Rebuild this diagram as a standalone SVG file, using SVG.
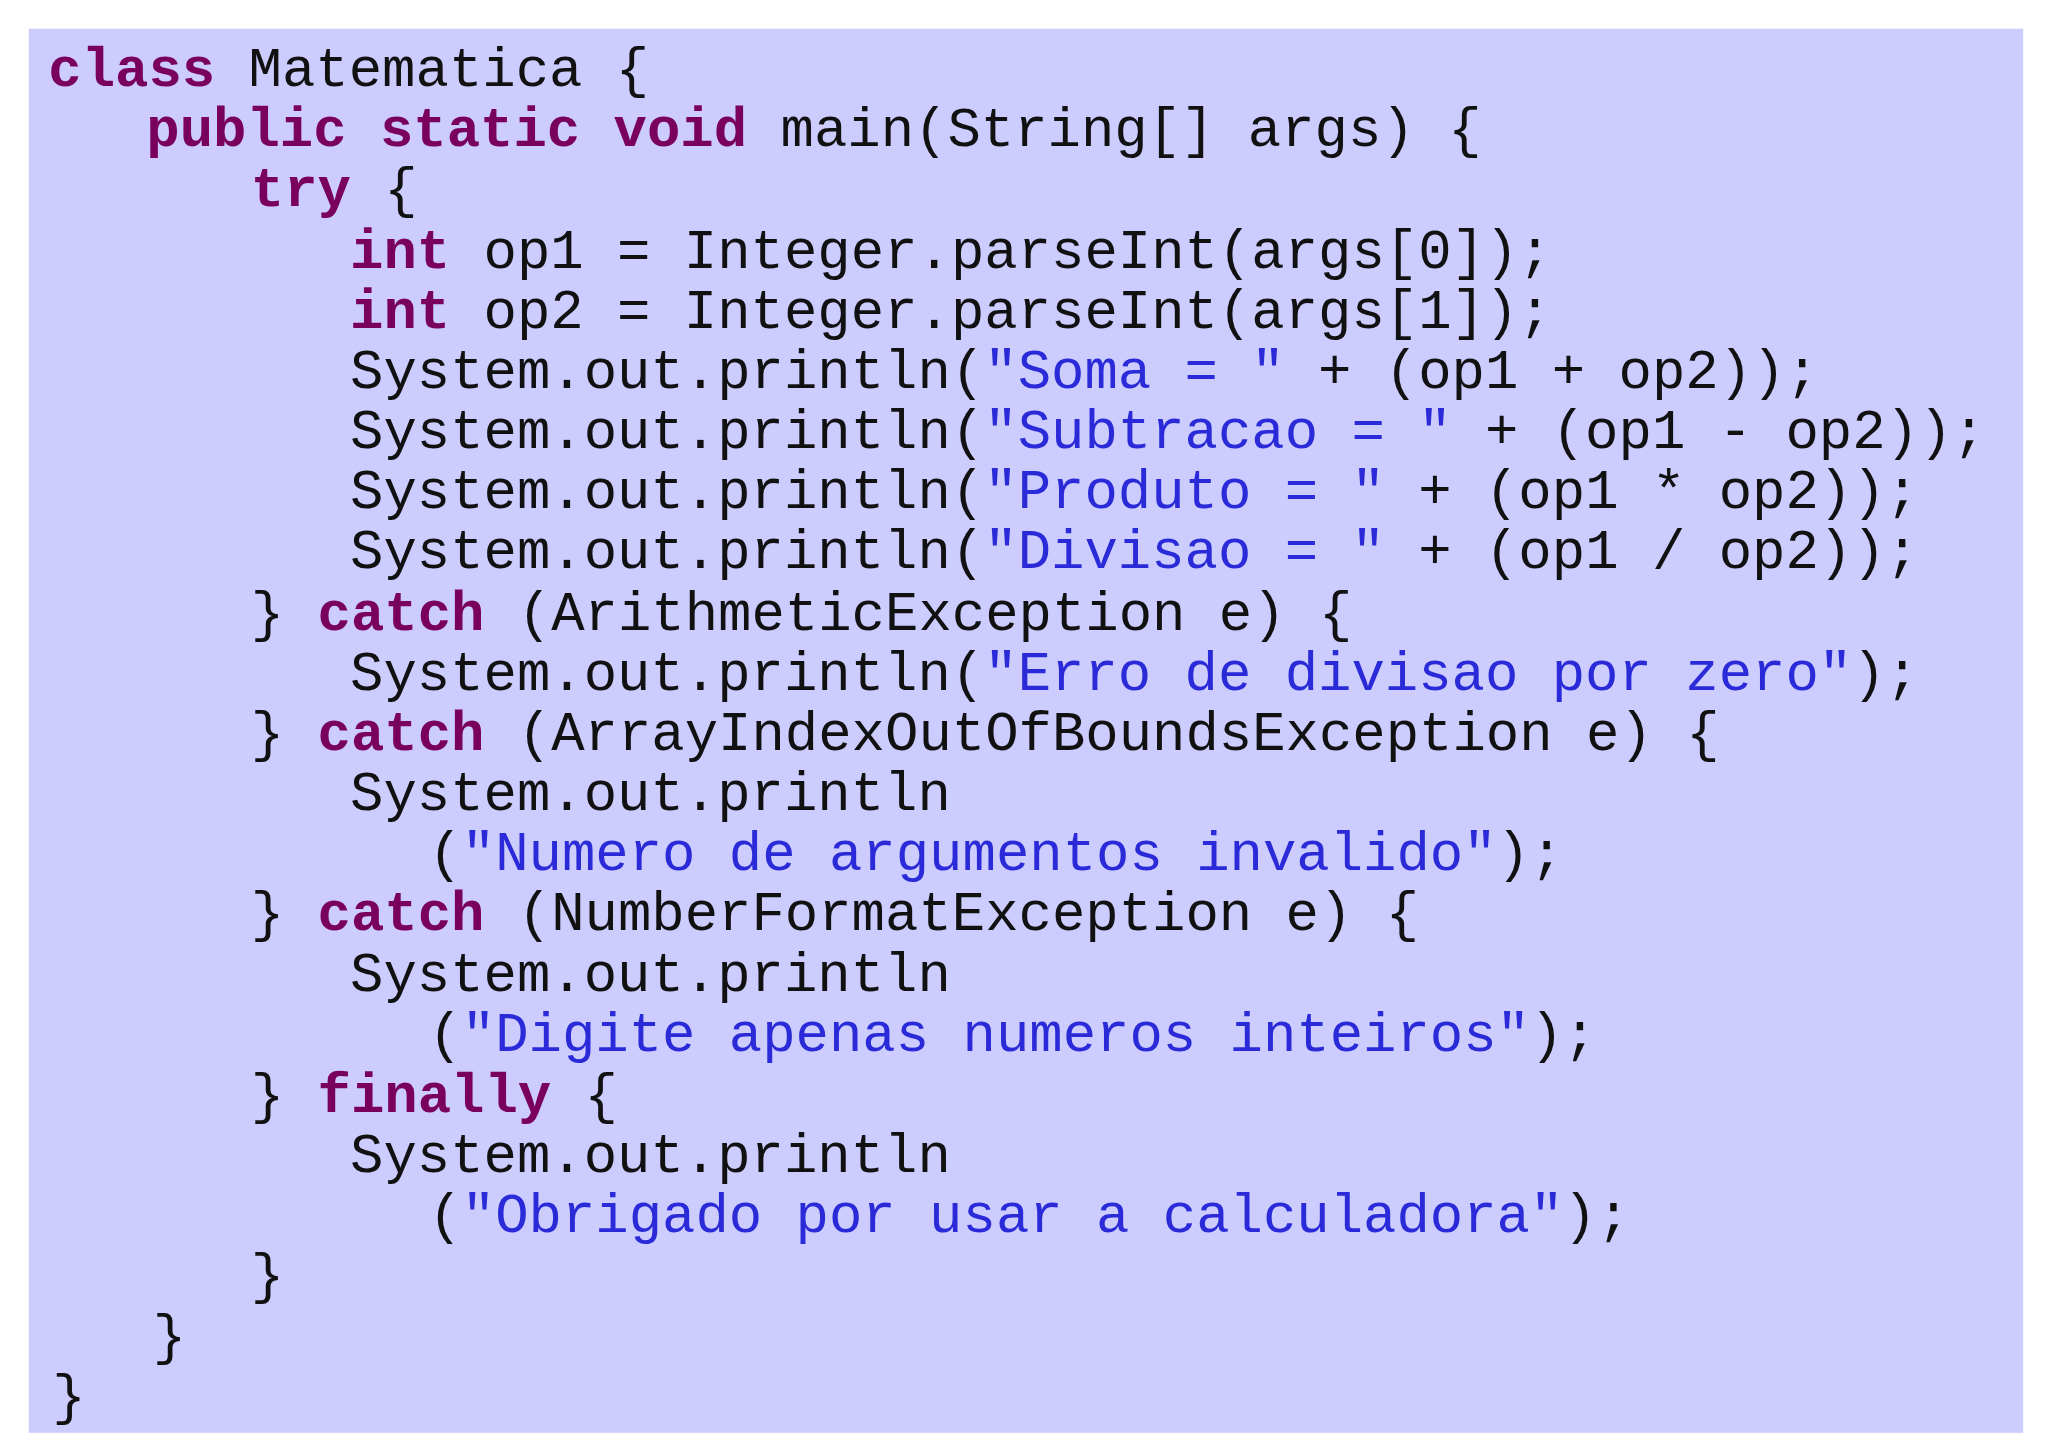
<svg xmlns="http://www.w3.org/2000/svg" width="2048" height="1447" viewBox="0 0 2048 1447">
<style>
text{font-family:"Liberation Mono","Courier New",monospace;font-size:42.6px;fill:#111;white-space:pre}
.k{font-weight:bold;fill:#7a0060}
.s{fill:#2a2ad8}
</style>
<rect width="2048" height="1447" fill="#fff"/>
<g id="code" transform="scale(1.30612)">
<rect x="22" y="22" width="1527" height="1075" fill="#ccccff"/>
<text x="37" y="66" xml:space="preserve"><tspan class="k">class</tspan> Matematica {</text>
<text x="112" y="112" xml:space="preserve"><tspan class="k">public static void</tspan> main(String[] args) {</text>
<text x="192" y="158" xml:space="preserve"><tspan class="k">try</tspan> {</text>
<text x="268" y="205" xml:space="preserve"><tspan class="k">int</tspan> op1 = Integer.parseInt(args[0]);</text>
<text x="268" y="251" xml:space="preserve"><tspan class="k">int</tspan> op2 = Integer.parseInt(args[1]);</text>
<text x="268" y="297" xml:space="preserve">System.out.println(<tspan class="s">"Soma = "</tspan> + (op1 + op2));</text>
<text x="268" y="343" xml:space="preserve">System.out.println(<tspan class="s">"Subtracao = "</tspan> + (op1 - op2));</text>
<text x="268" y="389" xml:space="preserve">System.out.println(<tspan class="s">"Produto = "</tspan> + (op1 * op2));</text>
<text x="268" y="435" xml:space="preserve">System.out.println(<tspan class="s">"Divisao = "</tspan> + (op1 / op2));</text>
<text x="192" y="482" xml:space="preserve">} <tspan class="k">catch</tspan> (ArithmeticException e) {</text>
<text x="268" y="528" xml:space="preserve">System.out.println(<tspan class="s">"Erro de divisao por zero"</tspan>);</text>
<text x="192" y="574" xml:space="preserve">} <tspan class="k">catch</tspan> (ArrayIndexOutOfBoundsException e) {</text>
<text x="268" y="620" xml:space="preserve">System.out.println</text>
<text x="328" y="666" xml:space="preserve">(<tspan class="s">"Numero de argumentos invalido"</tspan>);</text>
<text x="192" y="712" xml:space="preserve">} <tspan class="k">catch</tspan> (NumberFormatException e) {</text>
<text x="268" y="759" xml:space="preserve">System.out.println</text>
<text x="328" y="805" xml:space="preserve">(<tspan class="s">"Digite apenas numeros inteiros"</tspan>);</text>
<text x="192" y="851" xml:space="preserve">} <tspan class="k">finally</tspan> {</text>
<text x="268" y="897" xml:space="preserve">System.out.println</text>
<text x="328" y="943" xml:space="preserve">(<tspan class="s">"Obrigado por usar a calculadora"</tspan>);</text>
<text x="192" y="989" xml:space="preserve">}</text>
<text x="117" y="1036" xml:space="preserve">}</text>
<text x="40" y="1082" xml:space="preserve">}</text>
</g>
</svg>
